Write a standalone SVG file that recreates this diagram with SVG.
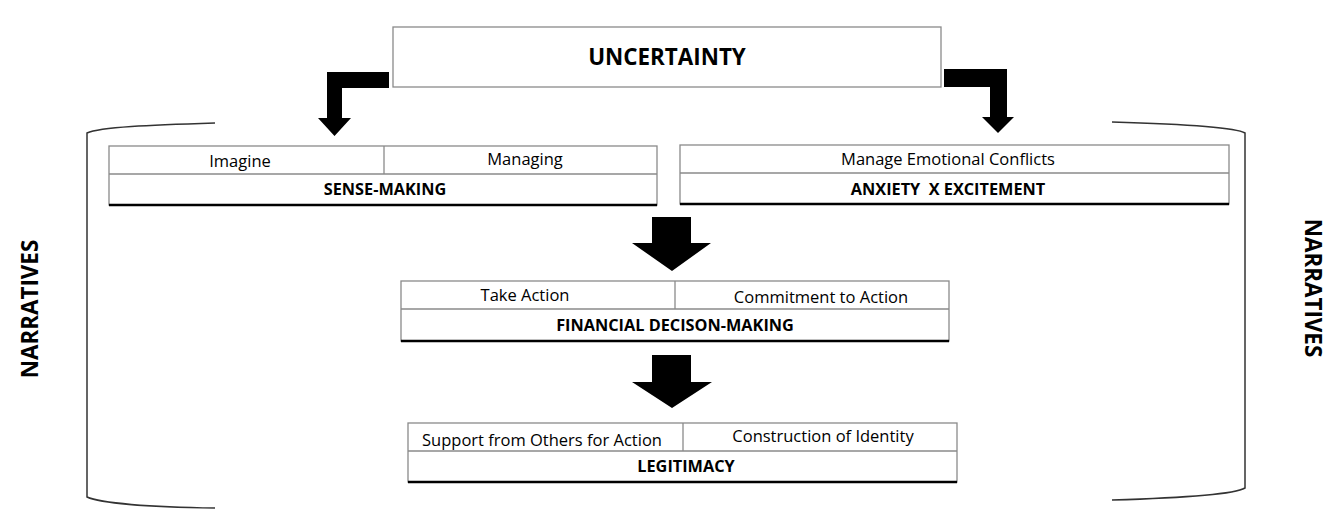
<svg xmlns="http://www.w3.org/2000/svg" width="1332" height="519" viewBox="0 0 1332 519">
<style>
.box{fill:#fff;stroke:#8a8a8a;stroke-width:1.3}
.div{stroke:#8a8a8a;stroke-width:1.3}
.base{stroke:#000;stroke-width:2.5}
.t{font-family:"Open Sans","Liberation Sans",sans-serif;font-size:16.5px;fill:#000;text-anchor:middle}
.b{font-family:"Open Sans","Liberation Sans",sans-serif;font-size:16.3px;font-weight:bold;fill:#000;text-anchor:middle}
.big{font-family:"Open Sans","Liberation Sans",sans-serif;font-size:22.4px;font-weight:bold;fill:#000;text-anchor:middle}
.arrow{fill:#000}
.br{fill:none;stroke:#333;stroke-width:1.5}
</style>
<rect width="1332" height="519" fill="#fff"/>
<g id="uncertainty">
<rect class="box" x="393" y="27" width="548" height="60"/>
<text class="big" x="667" y="65">UNCERTAINTY</text>
</g>
<g id="sense-making">
<rect class="box" x="109" y="146" width="548" height="59"/>
<line class="div" x1="109" y1="174" x2="657" y2="174"/>
<line class="div" x1="384" y1="146" x2="384" y2="174"/>
<line class="base" x1="109" y1="205" x2="657" y2="205"/>
<text class="t" x="240" y="167">Imagine</text>
<text class="t" x="525" y="165">Managing</text>
<text class="b" x="385" y="195">SENSE-MAKING</text>
</g>
<g id="anxiety">
<rect class="box" x="680" y="145" width="549" height="59"/>
<line class="div" x1="680" y1="173" x2="1229" y2="173"/>
<line class="base" x1="680" y1="204" x2="1229" y2="204"/>
<text class="t" x="948" y="165">Manage Emotional Conflicts</text>
<text class="b" x="948" y="195" xml:space="preserve">ANXIETY  X EXCITEMENT</text>
</g>
<g id="financial">
<rect class="box" x="401" y="281" width="548" height="60"/>
<line class="div" x1="401" y1="309" x2="949" y2="309"/>
<line class="div" x1="675" y1="281" x2="675" y2="309"/>
<line class="base" x1="401" y1="341" x2="949" y2="341"/>
<text class="t" x="525" y="301">Take Action</text>
<text class="t" x="821" y="303">Commitment to Action</text>
<text class="b" x="675" y="331">FINANCIAL DECISON-MAKING</text>
</g>
<g id="legitimacy">
<rect class="box" x="408" y="423" width="549" height="59"/>
<line class="div" x1="408" y1="451" x2="957" y2="451"/>
<line class="div" x1="683" y1="423" x2="683" y2="451"/>
<line class="base" x1="408" y1="482" x2="957" y2="482"/>
<text class="t" x="542" y="446">Support from Others for Action</text>
<text class="t" x="823" y="442">Construction of Identity</text>
<text class="b" x="686" y="472">LEGITIMACY</text>
</g>
<g id="narratives-left">
<path class="br" d="M215,123 C150,125 100,127 87,133 L87,497 C100,503 150,507 215,508"/>
<text class="big" transform="translate(38,309) rotate(-90)">NARRATIVES</text>
</g>
<g id="narratives-right">
<path class="br" d="M1112,122 C1180,124 1235,127 1245,133 L1245,488 C1235,494 1180,498 1112,500"/>
<text class="big" transform="translate(1305,288) rotate(90)">NARRATIVES</text>
</g>
<g id="connectors">
<path class="arrow" d="M389,72 L327,72 L327,118 L318,118 L334.5,136 L351,118 L342,118 L342,88 L389,88 Z"/>
<path class="arrow" d="M944,69 L1007,69 L1007,117 L1014,117 L998,133 L982,117 L990,117 L990,87 L944,87 Z"/>
<path class="arrow" d="M652,217 L691,217 L691,243 L711,243 L672,271 L632,243 L652,243 Z"/>
<path class="arrow" d="M652,355 L691,355 L691,382 L712,382 L672,408 L632,382 L652,382 Z"/>
</g>
</svg>
